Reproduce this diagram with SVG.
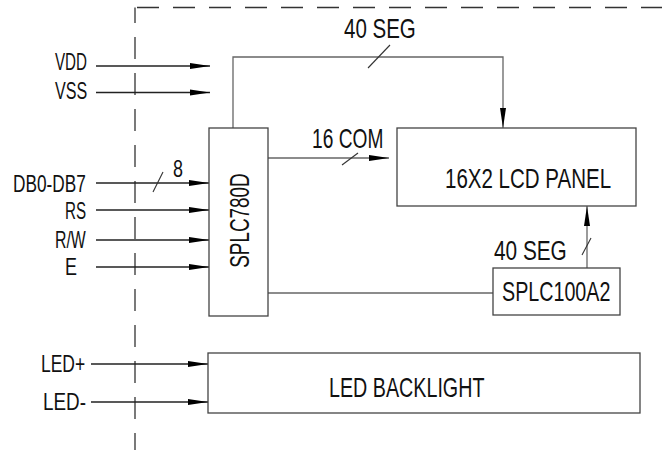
<svg xmlns="http://www.w3.org/2000/svg" width="662" height="450" viewBox="0 0 662 450">
<defs>
<style>
text{font-family:"Liberation Sans",Arial,sans-serif;fill:#111;}
.lbl{font-size:23px;}
.big{font-size:27px;}
.box{fill:#fff;stroke:#444;stroke-width:1.3;}
.in{fill:none;stroke:#222;stroke-width:1.3;}
.wire{fill:none;stroke:#666;stroke-width:1.3;}
.tick{fill:none;stroke:#333;stroke-width:1.1;}
.frame{fill:none;stroke:#333;stroke-width:1.3;stroke-dasharray:22 14;}
</style>
<marker id="ah" markerUnits="userSpaceOnUse" markerWidth="20" markerHeight="7" refX="20" refY="3.5" orient="auto">
<path d="M0,0.5 L20,3.5 L0,6.5 Z" fill="#000"/>
</marker>
</defs>

<g id="frame">
<path class="frame" d="M137,7.5 H662"/>
<path class="frame" d="M135,7.5 V450" stroke-dashoffset="6.5"/>
</g>

<g id="connectors">
<path class="in" d="M96,66 H210" marker-end="url(#ah)"/>
<path class="in" d="M96,92.5 H210" marker-end="url(#ah)"/>
<path class="in" d="M96,183 H209" marker-end="url(#ah)"/>
<path class="tick" d="M153,192 L163,172"/>
<path class="in" d="M96,210 H209" marker-end="url(#ah)"/>
<path class="in" d="M96,240 H209" marker-end="url(#ah)"/>
<path class="in" d="M96,267 H209" marker-end="url(#ah)"/>
<path class="in" d="M91,364 H208" marker-end="url(#ah)"/>
<path class="in" d="M91,402 H208" marker-end="url(#ah)"/>
<path class="wire" d="M233,128 V57 H503 V128" marker-end="url(#ah)"/>
<path class="tick" d="M368,68 L390,45"/>
<path class="wire" d="M268,158 H389" marker-end="url(#ah)"/>
<path class="tick" d="M342,165 L358,153"/>
<path class="wire" d="M268,293 H493"/>
<path class="wire" d="M587,268 V206" marker-end="url(#ah)"/>
<path class="tick" d="M582,255 L591,238"/>
</g>

<g id="labels">
<text class="lbl" transform="translate(55,70) scale(0.66,1)">VDD</text>
<text class="lbl" transform="translate(55,99) scale(0.70,1)">VSS</text>
<text class="lbl" transform="translate(13,192) scale(0.75,1)">DB0-DB7</text>
<text class="lbl" transform="translate(173,177) scale(0.78,1)">8</text>
<text class="lbl" transform="translate(65,219) scale(0.66,1)">RS</text>
<text class="lbl" transform="translate(55,248) scale(0.69,1)">R/W</text>
<text class="lbl" transform="translate(65,275) scale(0.78,1)">E</text>
<text class="lbl" transform="translate(41,372) scale(0.76,1)">LED+</text>
<text class="lbl" transform="translate(43,410) scale(0.82,1)">LED-</text>
<text class="big" transform="translate(344,38) scale(0.76,1)">40 SEG</text>
<text class="big" transform="translate(312,148) scale(0.71,1)">16 COM</text>
<text class="big" transform="translate(494,260) scale(0.77,1)">40 SEG</text>
</g>

<g id="splc780d">
<rect class="box" x="209" y="128" width="59" height="188"/>
<text class="big" transform="translate(249,220.5) rotate(-90) scale(0.70,1)" text-anchor="middle">SPLC780D</text>
</g>

<g id="lcd-panel">
<rect class="box" x="397" y="128" width="239" height="78"/>
<text class="big" transform="translate(445,188) scale(0.76,1)">16X2 LCD PANEL</text>
</g>

<g id="splc100a2">
<rect class="box" x="493" y="268" width="127" height="47"/>
<text class="big" transform="translate(502,301) scale(0.73,1)">SPLC100A2</text>
</g>

<g id="led-backlight">
<rect class="box" x="208" y="353" width="432" height="60"/>
<text class="big" transform="translate(329,397) scale(0.73,1)">LED BACKLIGHT</text>
</g>
</svg>
